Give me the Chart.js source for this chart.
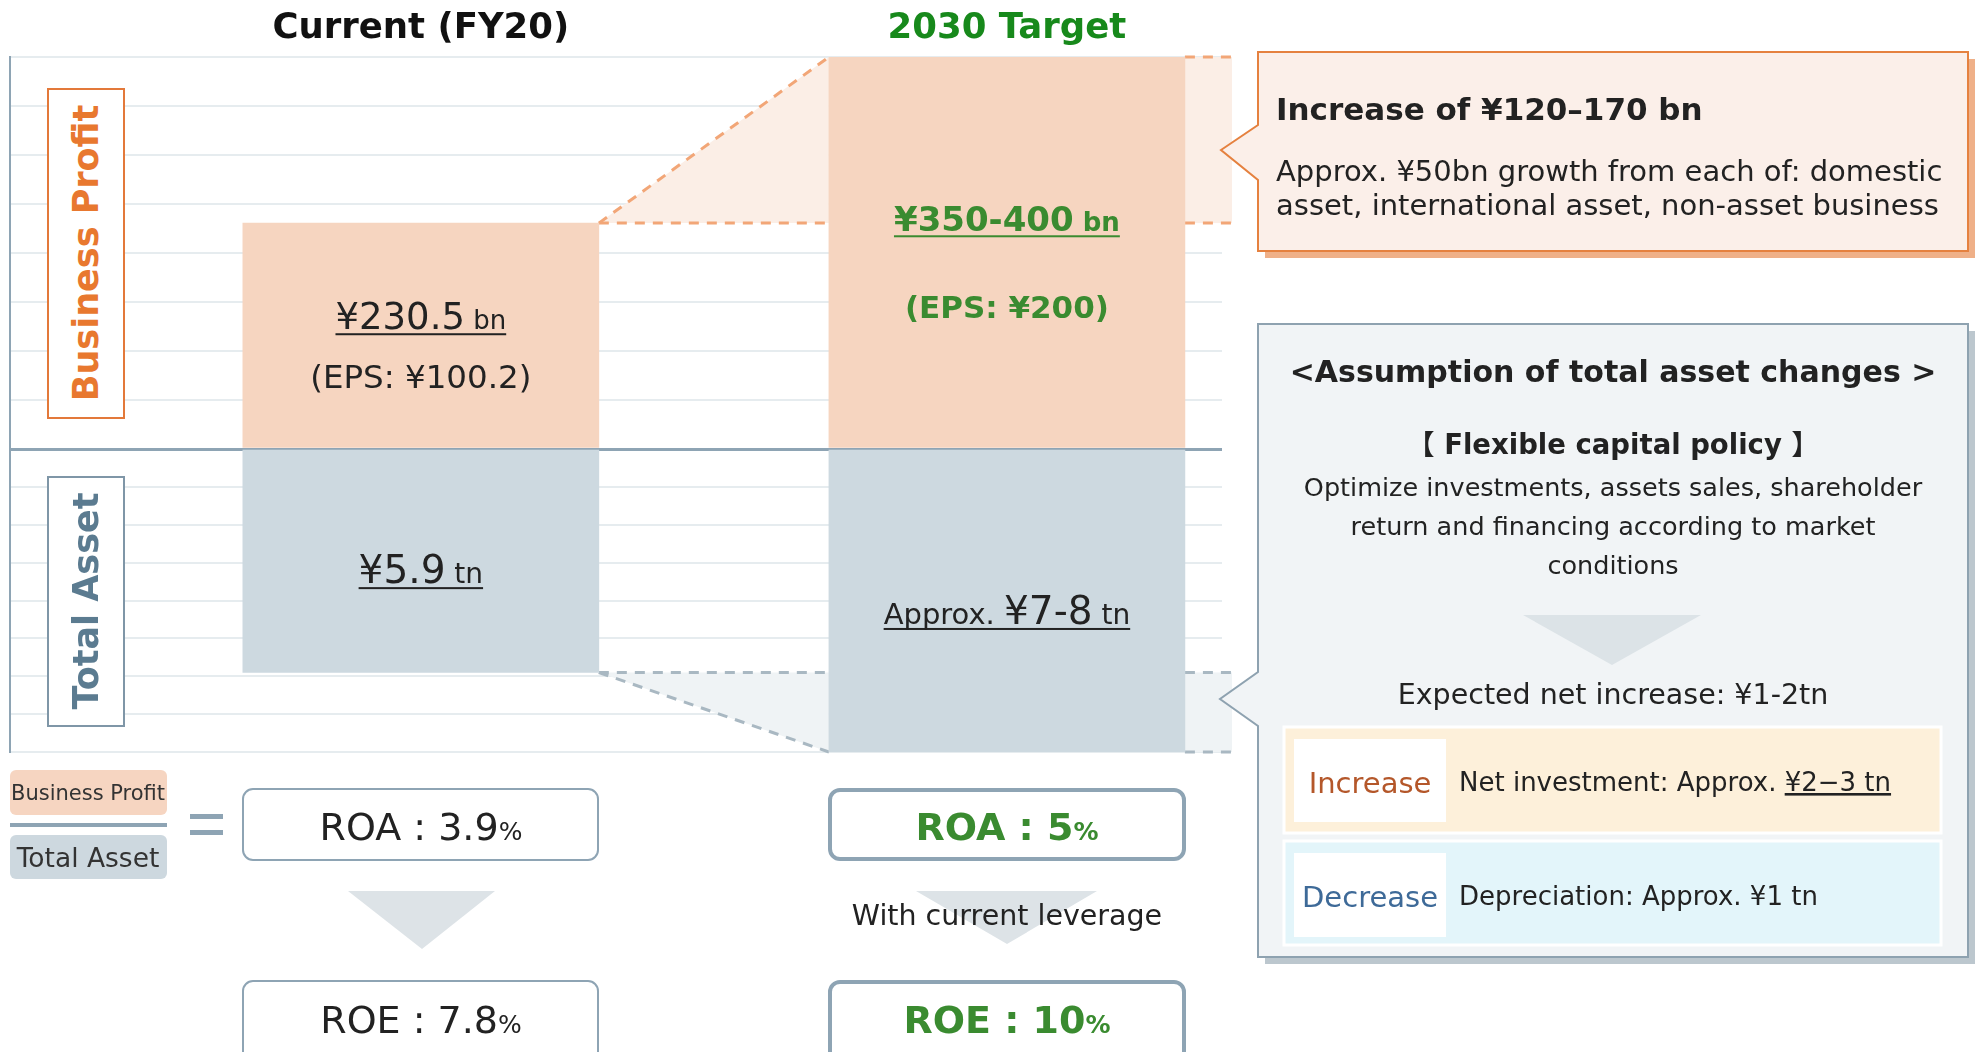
<!DOCTYPE html>
<html>
<head>
<meta charset="utf-8">
<script src="https://cdn.jsdelivr.net/npm/chart.js@4.4.1/dist/chart.umd.min.js"></script>
<style>
  html, body { margin: 0; padding: 0; background: #fff; }
  #wrap { position: relative; width: 1987px; height: 1052px; overflow: hidden; }
  #chartBox { position: absolute; left: 0; top: 0; width: 1987px; height: 1052px; }
  #overlay { position: absolute; left: 0; top: 0; }
  svg text { font-family: "DejaVu Sans", "Noto Sans CJK JP", sans-serif; fill: #222; }
</style>
</head>
<body>
<div id="wrap">
  <div id="chartBox"><canvas id="planChart"></canvas></div>

  <svg id="overlay" width="1987" height="1052" xmlns="http://www.w3.org/2000/svg">
    <!-- vertical section labels -->
    <rect x="48" y="89" width="76" height="329" fill="#fff" stroke="#e3793a" stroke-width="2"/>
    <text transform="translate(86,253) rotate(-90)" text-anchor="middle" y="12" font-size="35" font-weight="bold" style="fill:#e8782f">Business Profit</text>
    <rect x="48" y="477" width="76" height="249" fill="#fff" stroke="#7f96a7" stroke-width="2"/>
    <text transform="translate(86,601) rotate(-90)" text-anchor="middle" y="12" font-size="35" font-weight="bold" style="fill:#5b7b90">Total Asset</text>

    <!-- profit callout -->
    <rect x="1265" y="59" width="710" height="199" fill="#efb088"/>
    <polygon points="1258,52 1968,52 1968,251 1258,251 1258,180 1221,150 1258,125" fill="#fbefe9" stroke="#e5813f" stroke-width="2"/>
    <text x="1276" y="120" font-size="31" font-weight="bold">Increase of ¥120–170 bn</text>
    <text x="1276" y="181" font-size="29">Approx. ¥50bn growth from each of: domestic</text>
    <text x="1276" y="215" font-size="29">asset, international asset, non-asset business</text>

    <!-- asset callout -->
    <rect x="1265" y="331" width="710" height="633" fill="#bcc7ce"/>
    <polygon points="1258,324 1968,324 1968,957 1258,957 1258,726 1220,699 1258,672" fill="#f1f4f6" stroke="#8ea2b0" stroke-width="2"/>
    <text x="1613" y="382" text-anchor="middle" font-size="30" font-weight="bold">&lt;Assumption of total asset changes &gt;</text>
    <text x="1613" y="454" text-anchor="middle" font-size="27.5" font-weight="bold">【 Flexible capital policy 】</text>
    <text x="1613" y="496" text-anchor="middle" font-size="25.5">Optimize investments, assets sales, shareholder</text>
    <text x="1613" y="535" text-anchor="middle" font-size="25.5">return and financing according to market</text>
    <text x="1613" y="574" text-anchor="middle" font-size="25.5">conditions</text>
    <polygon points="1523,615 1701,615 1612,665" fill="#dce3e7"/>
    <text x="1613" y="704" text-anchor="middle" font-size="28.5">Expected net increase: ¥1-2tn</text>

    <rect x="1284" y="727" width="657" height="106" fill="#fdf0da" stroke="#fff" stroke-width="3"/>
    <rect x="1294" y="739" width="152" height="83" fill="#fff"/>
    <text x="1370" y="793" text-anchor="middle" font-size="29" style="fill:#b4572a">Increase</text>
    <text x="1459" y="791" font-size="26">Net investment: Approx. <tspan text-decoration="underline">¥2−3 tn</tspan></text>

    <rect x="1284" y="841" width="657" height="104" fill="#e3f5fa" stroke="#fff" stroke-width="3"/>
    <rect x="1294" y="853" width="152" height="84" fill="#fff"/>
    <text x="1370" y="907" text-anchor="middle" font-size="29" style="fill:#3e6a98">Decrease</text>
    <text x="1459" y="905" font-size="26">Depreciation: Approx. ¥1 tn</text>

    <!-- ROA formula -->
    <rect x="10" y="770" width="157" height="45" rx="6" fill="#f6d5c1"/>
    <text x="88" y="800" text-anchor="middle" font-size="21" style="fill:#333">Business Profit</text>
    <rect x="10" y="823" width="157" height="4" fill="#8ea4b4"/>
    <rect x="10" y="835" width="157" height="44" rx="6" fill="#cdd8df"/>
    <text x="88" y="867" text-anchor="middle" font-size="26.5" style="fill:#333">Total Asset</text>
    <rect x="190" y="814" width="33" height="5" fill="#8ea4b4"/>
    <rect x="190" y="830" width="33" height="5" fill="#8ea4b4"/>

    <rect x="243" y="789" width="355" height="71" rx="10" fill="#fff" stroke="#8ea4b4" stroke-width="2"/>
    <text x="421" y="840" text-anchor="middle" font-size="38">ROA : 3.9<tspan font-size="25">%</tspan></text>
    <rect x="830" y="790" width="354" height="69" rx="10" fill="#fff" stroke="#8ea4b4" stroke-width="4"/>
    <text x="1007" y="840" text-anchor="middle" font-size="38" font-weight="bold" style="fill:#3a8b30">ROA : 5<tspan font-size="25">%</tspan></text>

    <polygon points="348,891 495,891 422,949" fill="#dde3e7"/>
    <polygon points="916,891 1097,891 1007,944" fill="#dde3e7"/>
    <text x="1007" y="925" text-anchor="middle" font-size="28.5">With current leverage</text>

    <rect x="243" y="981" width="355" height="100" rx="10" fill="#fff" stroke="#8ea4b4" stroke-width="2"/>
    <text x="421" y="1033" text-anchor="middle" font-size="38">ROE : 7.8<tspan font-size="25">%</tspan></text>
    <rect x="830" y="982" width="354" height="100" rx="10" fill="#fff" stroke="#8ea4b4" stroke-width="4"/>
    <text x="1007" y="1033" text-anchor="middle" font-size="38" font-weight="bold" style="fill:#3a8b30">ROE : 10<tspan font-size="25">%</tspan></text>
  </svg>
</div>

<script>
// DATA
const columns = ["Current (FY20)", "2030 Target"];
const columnX = [1, 2];
const profitValues = [230.5, 400];   // ¥bn, target bar runs to top of the ¥350-400bn range
const assetValues = [5.9, 8];        // ¥tn, target bar runs to top of the ¥7-8tn range
const profitMax = 400, profitStep = 50;
const assetMax = 8, assetStep = 1;
const profitText = [["", "¥230.5", " bn"], ["", "¥350-400", " bn"]];
const epsText = ["(EPS: ¥100.2)", "(EPS: ¥200)"];
const assetText = [["", "¥5.9", " tn"], ["Approx. ", "¥7-8", " tn"]];

// COLOURS
const PINK = "#f6d5c0";
const SLATE = "#cdd9e0";
const AXIS = "#8ea4b4";
const GRID = "#e6ecef";
const GREEN = "#3a8b30";
const FONT = '"DejaVu Sans", sans-serif';

function drawRich(ctx, parts, cx, baseY, color, bold, underline) {
    let w = bold ? "bold " : "";
    let total = 0;
    parts.forEach(p => {
        ctx.font = w + p.size + "px " + FONT;
        p.w = ctx.measureText(p.text).width;
        total += p.w;
    });
    let x = cx - total / 2;
    ctx.fillStyle = color;
    ctx.textAlign = "left";
    ctx.textBaseline = "alphabetic";
    parts.forEach(p => {
        ctx.font = w + p.size + "px " + FONT;
        ctx.fillText(p.text, x, baseY);
        x += p.w;
    });
    if (underline) ctx.fillRect(cx - total / 2, baseY + 4, total, 2);
}

function dashed(ctx, pts, color) {
    ctx.save();
    ctx.strokeStyle = color;
    ctx.lineWidth = 3;
    ctx.setLineDash([10, 8]);
    ctx.beginPath();
    ctx.moveTo(pts[0], pts[1]);
    ctx.lineTo(pts[2], pts[3]);
    ctx.stroke();
    ctx.restore();
}

// growth wedges behind the bars
const connectors = {
    id: "connectors",
    beforeDatasetsDraw(chart) {
        let ctx = chart.ctx;
        let ext = chart.chartArea.right + 10;
        let yP = chart.scales.yProfit, yA = chart.scales.yAsset;
        let p = chart.getDatasetMeta(0).data;
        let r0 = p[0].x + p[0].width / 2;
        let l1 = p[1].x - p[1].width / 2;
        let r1 = p[1].x + p[1].width / 2;

        // profit
        let pLow = yP.getPixelForValue(profitValues[0]);
        let pHigh = yP.getPixelForValue(profitValues[1]);
        ctx.save();
        ctx.fillStyle = "#fbeee6";
        ctx.beginPath();
        ctx.moveTo(r0, pLow); ctx.lineTo(l1, pHigh); ctx.lineTo(l1, pLow);
        ctx.closePath(); ctx.fill();
        ctx.fillRect(r1, pHigh, ext - r1, pLow - pHigh);
        ctx.restore();
        let orange = "#f2a677";
        dashed(ctx, [r0, pLow, l1, pHigh], orange);
        dashed(ctx, [r0, pLow, l1, pLow], orange);
        dashed(ctx, [r1, pLow, ext, pLow], orange);
        dashed(ctx, [r1, pHigh, ext, pHigh], orange);

        // asset
        let aLow = yA.getPixelForValue(assetValues[0]);
        let aHigh = yA.getPixelForValue(assetValues[1]);
        ctx.save();
        ctx.fillStyle = "#eff3f5";
        ctx.beginPath();
        ctx.moveTo(r0, aLow); ctx.lineTo(l1, aLow); ctx.lineTo(l1, aHigh);
        ctx.closePath(); ctx.fill();
        ctx.fillRect(r1, aLow, ext - r1, aHigh - aLow);
        ctx.restore();
        let grey = "#a9b8c2";
        dashed(ctx, [r0, aLow, l1, aHigh], grey);
        dashed(ctx, [r0, aLow, l1, aLow], grey);
        dashed(ctx, [r1, aLow, ext, aLow], grey);
        dashed(ctx, [r1, aHigh, ext, aHigh], grey);
    }
};

// value labels + column titles
const labels = {
    id: "labels",
    afterDatasetsDraw(chart) {
        let ctx = chart.ctx;
        let p = chart.getDatasetMeta(0).data;
        let a = chart.getDatasetMeta(1).data;
        let labelPos = [0.415, 0.413];
        let epsPos = [0.686, 0.64];
        let assetPos = [0.54, 0.533];

        ctx.save();
        p.forEach((bar, i) => {
            let h = bar.base - bar.y;
            let bold = i === 1;
            let col = i === 1 ? GREEN : "#222";
            let big = i === 1 ? 34 : 37;
            let parts = [
                { text: profitText[i][1], size: big },
                { text: profitText[i][2], size: 26 }
            ];
            drawRich(ctx, parts, bar.x, bar.y + h * labelPos[i] + 13, col, bold, true);
            drawRich(ctx, [{ text: epsText[i], size: i === 1 ? 31 : 32.5 }], bar.x, bar.y + h * epsPos[i] + 11, col, bold, false);
        });
        a.forEach((bar, i) => {
            let h = bar.y - bar.base;
            let parts = [
                { text: assetText[i][0], size: 29 },
                { text: assetText[i][1], size: 39 },
                { text: assetText[i][2], size: 28 }
            ];
            drawRich(ctx, parts, bar.x, bar.base + h * assetPos[i] + 13, "#222", false, true);
        });

        let xs = chart.scales.x;
        columns.forEach((c, i) => {
            let col = i === 1 ? "#17891b" : "#111";
            drawRich(ctx, [{ text: c, size: 35.5 }], xs.getPixelForValue(columnX[i]), 38, col, true, false);
        });
        ctx.restore();
    }
};

function loadChart() {
    let ctx = document.getElementById("planChart");

    new Chart(ctx, {
        type: "bar",
        data: {
            datasets: [
                {
                    label: "Business Profit",
                    data: columnX.map((x, i) => ({ x: x, y: profitValues[i] })),
                    yAxisID: "yProfit",
                    backgroundColor: PINK,
                    barThickness: 356,
                    grouped: false
                },
                {
                    label: "Total Asset",
                    data: columnX.map((x, i) => ({ x: x, y: assetValues[i] })),
                    yAxisID: "yAsset",
                    backgroundColor: SLATE,
                    barThickness: 356,
                    grouped: false
                }
            ]
        },
        options: {
            responsive: true,
            maintainAspectRatio: false,
            animation: false,
            layout: { padding: { left: 10, top: 57, right: 765, bottom: 300 } },
            plugins: { legend: { display: false }, tooltip: { enabled: false } },
            scales: {
                x: { type: "linear", min: 0.299, max: 2.367, offset: false, display: false },
                // stacked left axes: the later one is placed on top
                yAsset: {
                    position: "left", stack: "main", stackWeight: 303,
                    min: 0, max: assetMax, reverse: true,
                    ticks: { display: false, stepSize: assetStep },
                    grid: {
                        drawTicks: false,
                        color: c => c.tick.value === 0 ? "rgba(0,0,0,0)" : GRID,
                        lineWidth: 2
                    },
                    border: { color: AXIS, width: 2 }
                },
                yProfit: {
                    position: "left", stack: "main", stackWeight: 392,
                    min: 0, max: profitMax,
                    ticks: { display: false, stepSize: profitStep },
                    grid: {
                        drawTicks: false,
                        color: c => c.tick.value === 0 ? AXIS : GRID,
                        lineWidth: c => c.tick.value === 0 ? 3 : 2
                    },
                    border: { color: AXIS, width: 2 }
                }
            }
        },
        plugins: [connectors, labels]
    });
}

window.onload = loadChart;
</script>
</body>
</html>
